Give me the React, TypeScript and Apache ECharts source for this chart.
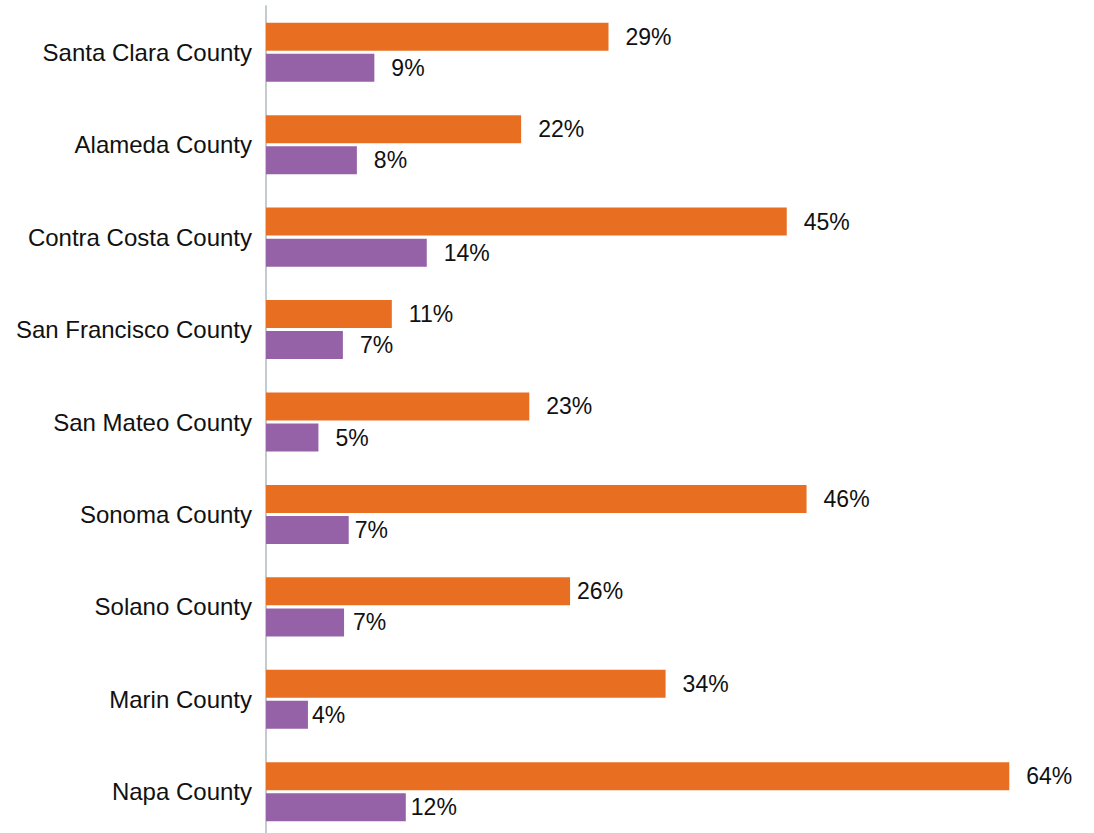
import React, { useEffect, useRef } from "react";
import * as echarts from "echarts";

const categories = [
  "Santa Clara County",
  "Alameda County",
  "Contra Costa County",
  "San Francisco County",
  "San Mateo County",
  "Sonoma County",
  "Solano County",
  "Marin County",
  "Napa County",
];

const orangeValues = [29.4, 21.9, 44.7, 10.8, 22.6, 46.4, 26.1, 34.3, 63.8];
const purpleValues = [9.3, 7.8, 13.8, 6.6, 4.5, 7.1, 6.7, 3.6, 12.0];

const FONT = "'Liberation Sans', Arial, sans-serif";

// label distance tweaks (by category index) to mimic the reference placement
const orangeLabelDist: Record<number, number> = { 6: 7 };
const purpleLabelDist: Record<number, number> = { 5: 6, 6: 9, 7: 4, 8: 5 };

export default function App() {
  const ref = useRef<HTMLDivElement>(null);
  useEffect(() => {
    if (!ref.current) return;
    const chart = echarts.init(ref.current, undefined, { renderer: "svg" });
    const fmt = (p: any) => Math.round(p.value) + "%";
    const baseLabel = {
      show: true,
      position: "right",
      distance: 17,
      fontSize: 23,
      fontFamily: FONT,
      color: "#111",
      formatter: fmt,
    };
    const mk = (vals: number[], dist: Record<number, number>) =>
      vals.map((v, i) =>
        dist[i] !== undefined ? { value: v, label: { distance: dist[i] } } : { value: v }
      );
    chart.setOption({
      animation: false,
      grid: { left: 266, right: 12.5, top: 6, bottom: 0, containLabel: false },
      xAxis: {
        type: "value",
        min: 0,
        max: 70,
        show: false,
        splitLine: { show: false },
      },
      yAxis: {
        type: "category",
        data: categories,
        inverse: true,
        axisLine: { show: true, lineStyle: { color: "#C3CBCF", width: 2 } },
        axisTick: { show: false },
        axisLabel: {
          margin: 14,
          fontSize: 24,
          fontFamily: FONT,
          color: "#111",
        },
        splitLine: { show: false },
      },
      series: [
        {
          name: "Orange",
          type: "bar",
          data: mk(orangeValues, orangeLabelDist),
          barWidth: 28,
          barGap: "11%",
          itemStyle: { color: "#E86F22" },
          label: baseLabel,
        },
        {
          name: "Purple",
          type: "bar",
          data: mk(purpleValues, purpleLabelDist),
          barWidth: 28,
          barGap: "11%",
          itemStyle: { color: "#9562A8" },
          label: baseLabel,
        },
      ],
    });
    return () => chart.dispose();
  }, []);
  return (
    <div
      ref={ref}
      style={{ position: "fixed", left: 0, top: 0, width: 1094, height: 838, background: "#fff" }}
    />
  );
}
